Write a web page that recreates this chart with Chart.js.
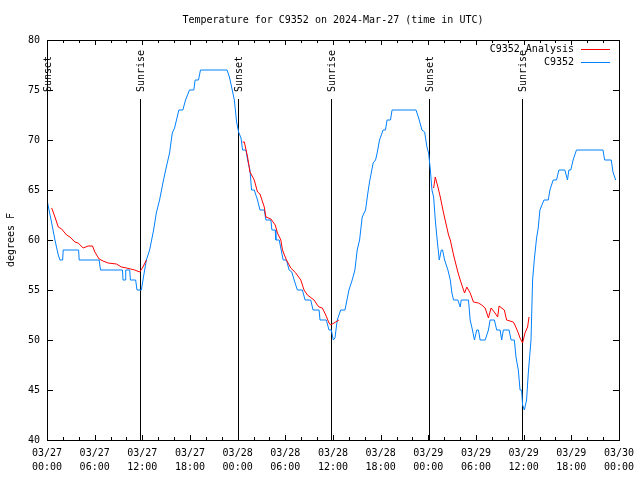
<!DOCTYPE html>
<html lang="en">
<head>
    <meta charset="UTF-8">
    <title>Temperature for C9352</title>
    <script src="https://cdn.jsdelivr.net/npm/chart.js"></script>
    <style>
        body { margin: 0; background: #FFFFFF; }
        #wrap { width: 640px; height: 480px; }
    </style>
</head>
<body>
    <div id="wrap"><canvas id="tempChart" width="640" height="480"></canvas></div>

    <script>
        // hours since 03/27 00:00 UTC
        const obsHours = [0, 0.59, 1.0, 1.42, 1.63, 1.97, 2.04, 3.98, 4.05, 6.56, 6.74, 9.5, 9.57, 9.85, 9.91, 10.41, 10.5, 11.16, 11.33, 11.88,
            12.08, 12.51, 12.92, 13.42, 13.76, 14.17, 14.59, 15.02, 15.43, 15.77, 16.06, 16.6, 17.1, 17.44, 17.94, 18.48, 18.65, 19.07, 19.32, 22.67,
            22.96, 23.24, 23.58, 23.87, 24.12, 24.42, 24.62, 25.05, 25.25, 25.55, 25.75, 26.09, 26.5, 26.81, 27.35, 27.56, 28.19, 28.31, 28.73, 28.81,
            29.23, 29.73, 30.14, 30.48, 30.82, 31.11, 31.52, 32.15, 32.49, 33.2, 33.49, 34.25, 34.37, 35.16, 35.5, 35.79, 36.04, 36.25, 36.54, 36.97,
            37.51, 38.01, 38.42, 38.76, 39.05, 39.35, 39.68, 40.1, 40.39, 40.6, 41.06, 41.36, 41.56, 41.86, 42.31, 42.61, 42.81, 43.24, 43.44, 46.45,
            46.79, 47.2, 47.54, 47.83, 48.04, 48.26, 48.46, 48.67, 48.88, 49.08, 49.38, 49.64, 49.8, 50.05, 50.47, 50.77, 50.97, 51.18, 51.72, 52.02,
            52.14, 53.06, 53.27, 53.56, 53.81, 54.1, 54.31, 54.53, 55.16, 55.57, 55.78, 56.32, 56.61, 57.04, 57.24, 57.45, 58.17, 58.42, 58.83, 59.04,
            59.33, 59.55, 59.75, 59.87, 60.09, 60.37, 60.59, 60.93, 61.13, 61.34, 61.63, 61.84, 62.05, 62.56, 63.1, 63.31, 63.72, 64.14, 64.44, 65.19,
            65.52, 65.7, 65.94, 66.23, 66.65, 69.99, 70.2, 71.03, 71.25, 71.59];
        const obsTemps = [64, 61.7, 60, 58.5, 58, 58, 59, 59, 58, 58, 57, 57, 56, 56, 57, 57, 56, 56, 55, 55,
            56, 58, 59, 61, 62.7, 64, 65.7, 67.3, 68.7, 70.7, 71.2, 73, 73, 74, 75, 75, 76, 76, 77, 77,
            76.3, 75.3, 74, 71.8, 70.8, 70.2, 69, 69, 68, 67, 65, 65, 64, 63, 63, 62, 62, 61, 61, 60,
            60, 58, 58, 57, 56.8, 56, 55, 55, 54, 54, 53, 53, 52, 52, 51, 51, 50, 50.2, 52, 53,
            53, 55, 56, 57, 59, 60, 62.3, 63, 64.7, 65.8, 67.7, 68, 68.7, 70, 71, 71, 72, 72, 73, 73,
            72.2, 71, 70.8, 69.3, 68.7, 67, 65, 64.3, 62, 60.3, 58, 59, 59, 58, 57, 56, 54.7, 54, 54, 53.3,
            54, 54, 52, 51, 50, 51, 51, 50, 50, 51, 52, 52, 51, 51, 50, 51, 51, 50, 50, 48.3,
            47, 45, 45, 43.5, 43, 44, 46.7, 50, 56, 58, 60.2, 61.2, 63, 64, 64, 65, 66, 66, 67, 67,
            66, 67, 67, 68, 69, 69, 68, 68, 66.8, 66];

        // analysis series, null marks a gap
        const anaHours = [0.59, 1.0, 1.42, 1.84, 2.47, 2.89, 3.51, 3.93, 4.55, 5.18, 5.73, 6.02, 6.56, 7.06, 7.69, 8.74, 9.37, 10.0, 11.04, 11.67, 12.08, 12.51,
            18,
            24.62, 24.84, 25.25, 25.55, 26.09, 26.5, 26.81, 27.35, 27.56, 28.19, 28.73, 29.01, 29.44, 29.64, 30.14, 30.69, 31.32, 31.95, 32.36, 32.78, 33.62,
            34.03, 34.25, 34.66, 35.09, 35.5, 35.71, 36.34, 36.75,
            42,
            48.67, 48.88, 49.21, 49.51, 49.92, 50.55, 50.77, 51.18, 51.72, 52.02, 52.56, 52.85, 53.27, 53.69, 54.31, 54.73, 55.16, 55.57, 55.9, 56.4,
            56.73, 56.91, 57.57, 57.86, 58.7, 58.91, 59.33, 59.55, 59.87, 60.17, 60.5, 60.68];
        const anaTemps = [63.2, 62.3, 61.3, 61.1, 60.5, 60.3, 59.8, 59.7, 59.2, 59.4, 59.4, 58.8, 58.1, 57.9, 57.7, 57.6, 57.3, 57.2, 57, 56.8, 57.3, 58,
            null,
            69.8, 69.8, 68.3, 66.8, 66, 64.8, 64.6, 63.3, 62.3, 62.1, 61.5, 60.7, 60, 59, 58, 57.2, 56.7, 56, 55, 54.5, 54,
            53.5, 53.3, 53.2, 52.5, 51.7, 51.5, 51.8, 52,
            null,
            65.2, 66.3, 65.3, 64.3, 62.7, 60.5, 60, 58.5, 56.8, 56, 54.7, 55.3, 54.7, 53.8, 53.7, 53.5, 53.2, 52.2, 53.2, 52.7,
            52.3, 53.4, 53, 52, 51.8, 51.5, 50.7, 50.2, 49.7, 50.7, 51.3, 52.3];

        const sunLabels = ['Sunset', 'Sunrise', 'Sunset', 'Sunrise', 'Sunset', 'Sunrise'];
        const sunHours = [0, 11.7, 24.0, 35.8, 48.1, 59.8];

        const tickDates = ['03/27', '03/27', '03/27', '03/27', '03/28', '03/28', '03/28', '03/28', '03/29', '03/29', '03/29', '03/29', '03/30'];
        const tickTimes = ['00:00', '06:00', '12:00', '18:00', '00:00', '06:00', '12:00', '18:00', '00:00', '06:00', '12:00', '18:00', '00:00'];

        const chartTitle = 'Temperature for C9352 on 2024-Mar-27 (time in UTC)';
        const FONT = 'DejaVu Sans Mono';

        function toPoints(hours, temps) {
            return hours.map((h, i) => ({ x: h, y: temps[i] }));
        }

        // gnuplot style frame, inward ticks, title, sun markers and legend
        const decorations = {
            id: 'decorations',
            beforeDatasetsDraw(chart) {
                const { ctx, chartArea: a, scales: { x, y } } = chart;
                ctx.save();
                ctx.strokeStyle = '#000';
                ctx.lineWidth = 1;
                ctx.fillStyle = '#000';
                ctx.font = '10px ' + FONT;
                ctx.textBaseline = 'middle';
                ctx.textAlign = 'left';
                const topPx = y.getPixelForValue(74.1);
                sunHours.forEach((h, i) => {
                    const px = Math.round(x.getPixelForValue(h)) + 0.5;
                    ctx.beginPath();
                    ctx.moveTo(px, topPx);
                    ctx.lineTo(px, a.bottom);
                    ctx.stroke();
                    ctx.save();
                    ctx.translate(px + 1, topPx - 7);
                    ctx.rotate(-Math.PI / 2);
                    ctx.fillText(sunLabels[i], 0, 0);
                    ctx.restore();
                });
                ctx.restore();
            },
            afterDraw(chart) {
                const { ctx, chartArea: a, scales: { x, y } } = chart;
                ctx.save();
                ctx.strokeStyle = '#000';
                ctx.lineWidth = 1;
                ctx.strokeRect(Math.round(a.left) + 0.5, Math.round(a.top) + 0.5, Math.round(a.right - a.left), Math.round(a.bottom - a.top));
                ctx.beginPath();
                for (let v = 40; v <= 80; v += 5) {
                    const py = Math.round(y.getPixelForValue(v)) + 0.5;
                    ctx.moveTo(a.left, py); ctx.lineTo(a.left + 6, py);
                    ctx.moveTo(a.right, py); ctx.lineTo(a.right - 6, py);
                }
                for (let h = 0; h <= 72; h += 2) {
                    const len = h % 6 === 0 ? 5 : 3;
                    const px = Math.round(x.getPixelForValue(h)) + 0.5;
                    ctx.moveTo(px, a.bottom); ctx.lineTo(px, a.bottom - len);
                    ctx.moveTo(px, a.top); ctx.lineTo(px, a.top + len);
                }
                ctx.stroke();

                ctx.font = '10px ' + FONT;
                ctx.fillStyle = '#000';
                ctx.textBaseline = 'middle';
                ctx.textAlign = 'center';
                ctx.fillText(chartTitle, (a.left + a.right) / 2, 20);

                // legend
                ctx.textAlign = 'right';
                chart.data.datasets.forEach((ds, i) => {
                    const ly = 49.5 + i * 13;
                    ctx.fillText(ds.label, 574, ly);
                    ctx.strokeStyle = ds.borderColor;
                    ctx.beginPath();
                    ctx.moveTo(581, ly);
                    ctx.lineTo(610, ly);
                    ctx.stroke();
                });
                ctx.restore();
            }
        };

        new Chart(document.getElementById('tempChart').getContext('2d'), {
            type: 'line',
            data: {
                datasets: [
                    {
                        label: 'C9352_Analysis',
                        data: toPoints(anaHours, anaTemps),
                        borderColor: '#FF0000',
                        borderWidth: 1,
                        pointRadius: 0,
                        spanGaps: false,
                        tension: 0
                    },
                    {
                        label: 'C9352',
                        data: toPoints(obsHours, obsTemps),
                        borderColor: '#0080FF',
                        borderWidth: 1,
                        pointRadius: 0,
                        tension: 0
                    }
                ]
            },
            options: {
                responsive: false,
                animation: false,
                layout: { padding: { left: 0, right: 19, top: 40, bottom: 0 } },
                plugins: {
                    legend: { display: false },
                    tooltip: { enabled: false },
                    title: { display: false }
                },
                scales: {
                    x: {
                        type: 'linear',
                        min: 0,
                        max: 72,
                        grid: { display: false, drawTicks: false },
                        border: { display: false },
                        afterFit: (scale) => { scale.height = 40; },
                        ticks: {
                            stepSize: 6,
                            autoSkip: false,
                            maxRotation: 0,
                            padding: 6,
                            color: '#000',
                            font: { family: FONT, size: 10, lineHeight: 1.4 },
                            callback: (v) => {
                                const i = Math.round(v / 6);
                                return [tickDates[i], tickTimes[i]];
                            }
                        }
                    },
                    y: {
                        min: 40,
                        max: 80,
                        grid: { display: false, drawTicks: false },
                        border: { display: false },
                        afterFit: (scale) => { scale.width = 47; },
                        title: {
                            display: true,
                            text: 'degrees F',
                            color: '#000',
                            font: { family: FONT, size: 10 },
                            padding: { top: 5, bottom: 0 }
                        },
                        ticks: {
                            stepSize: 5,
                            padding: 7,
                            color: '#000',
                            font: { family: FONT, size: 10 }
                        }
                    }
                }
            },
            plugins: [decorations]
        });
    </script>
</body>
</html>
